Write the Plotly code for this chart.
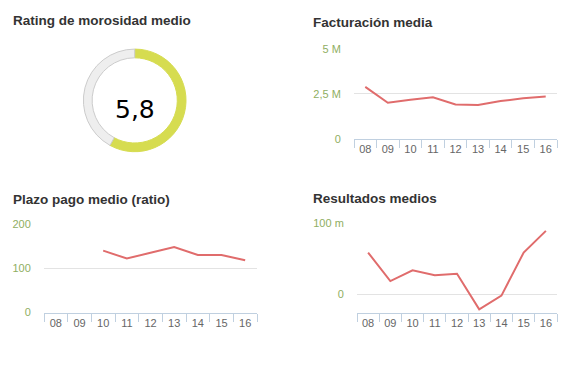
import plotly.graph_objects as go

years = ["08", "09", "10", "11", "12", "13", "14", "15", "16"]
rating_value = 5.8
rating_max = 10
facturacion = [2.88, 2.0, 2.16, 2.3, 1.9, 1.87, 2.09, 2.25, 2.34]  # millones
plazo = [None, None, 139.5, 121.6, 134.6, 147.5, 129.6, 129.6, 118]
resultados = [58.2, 18.2, 33.2, 26.4, 28.6, -21.3, -2.2, 58.2, 88.6]  # miles

# page body has an 8px margin; the figure is sized to fit the rest of the window
OFF = 8
W, H = 575 - OFF, 365 - OFF
def px(x):
    return (x - OFF) / W
def py(y):
    return (H - (y - OFF)) / H

LINE = "#e06c6c"
GREEN = "#8fae62"
GRID = "#e3e3e3"
AXIS = "#c0d0e0"
TITLE_FONT = dict(family="Liberation Sans, Arial", size=13.5, color="#333333")

fig = go.Figure()

fig.add_trace(go.Pie(
    values=[rating_value, rating_max - rating_value],
    marker=dict(colors=["#d6dc50", "#eeeeee"],
                line=dict(color=["#d6dc50", "#cccccc"], width=1)),
    hole=0.83, sort=False, direction="clockwise", rotation=0,
    textinfo="none", hoverinfo="skip", showlegend=False,
    domain=dict(x=[px(81.7), px(187.7)], y=[py(150.5), py(44.3)]),
))

fig.add_trace(go.Scatter(x=years, y=facturacion, mode="lines",
                         line=dict(color=LINE, width=2), xaxis="x", yaxis="y",
                         showlegend=False))
fig.add_trace(go.Scatter(x=years, y=plazo, mode="lines",
                         line=dict(color=LINE, width=2), xaxis="x2", yaxis="y2",
                         showlegend=False))
fig.add_trace(go.Scatter(x=years, y=resultados, mode="lines",
                         line=dict(color=LINE, width=2), xaxis="x3", yaxis="y3",
                         showlegend=False))

def xaxis(dom, anchor):
    return dict(domain=dom, anchor=anchor, type="category",
                range=[-0.5, 8.5], showgrid=False, zeroline=False,
                showline=True, linecolor=AXIS, linewidth=1,
                ticks="outside", tickson="boundaries", ticklen=8,
                tickcolor=AXIS, tickwidth=1,
                tickfont=dict(family="Liberation Sans, Arial", size=11, color="#666666"),
                fixedrange=True)

def yaxis(dom, anchor, rng, vals, texts):
    return dict(domain=dom, anchor=anchor, range=rng, tickvals=vals, ticktext=texts,
                showgrid=True, gridcolor=GRID, gridwidth=1,
                zeroline=True, zerolinecolor=GRID, zerolinewidth=1,
                showline=False, ticks="outside", ticklen=10,
                tickcolor="rgba(0,0,0,0)",
                tickfont=dict(family="Liberation Sans, Arial", size=11, color=GREEN),
                fixedrange=True)

fig.update_layout(
    width=W, height=H,
    margin=dict(l=0, r=0, t=0, b=0),
    paper_bgcolor="white", plot_bgcolor="white",
    xaxis=xaxis([px(354), px(557)], "y"),
    yaxis=yaxis([py(137), py(44)], "x", [0, 5], [0, 2.5, 5], ["0", "2,5 M", "5 M"]),
    xaxis2=xaxis([px(44), px(257)], "y2"),
    yaxis2=yaxis([py(317), py(225)], "x2", [0, 200], [0, 100, 200], ["0", "100", "200"]),
    xaxis3=xaxis([px(357), px(557)], "y3"),
    yaxis3=yaxis([py(317), py(224)], "x3", [-26, 100], [0, 100], ["0", "100 m"]),
    annotations=[
        dict(text="<b>Rating de morosidad medio</b>", x=px(11), y=py(15), xref="paper", yref="paper",
             xanchor="left", yanchor="middle", showarrow=False, font=TITLE_FONT),
        dict(text="<b>Facturación media</b>", x=px(311), y=py(17), xref="paper", yref="paper",
             xanchor="left", yanchor="middle", showarrow=False, font=TITLE_FONT),
        dict(text="<b>Plazo pago medio (ratio)</b>", x=px(11), y=py(200), xref="paper", yref="paper",
             xanchor="left", yanchor="middle", showarrow=False, font=TITLE_FONT),
        dict(text="<b>Resultados medios</b>", x=px(311), y=py(199), xref="paper", yref="paper",
             xanchor="left", yanchor="middle", showarrow=False, font=TITLE_FONT),
        dict(text="5,8", x=px(134.7), y=py(106.5), xref="paper", yref="paper",
             xanchor="center", yanchor="middle", showarrow=False,
             font=dict(family="DejaVu Sans", size=25, color="#000000")),
    ],
)

fig.write_html("out.html", config={"displayModeBar": False})
